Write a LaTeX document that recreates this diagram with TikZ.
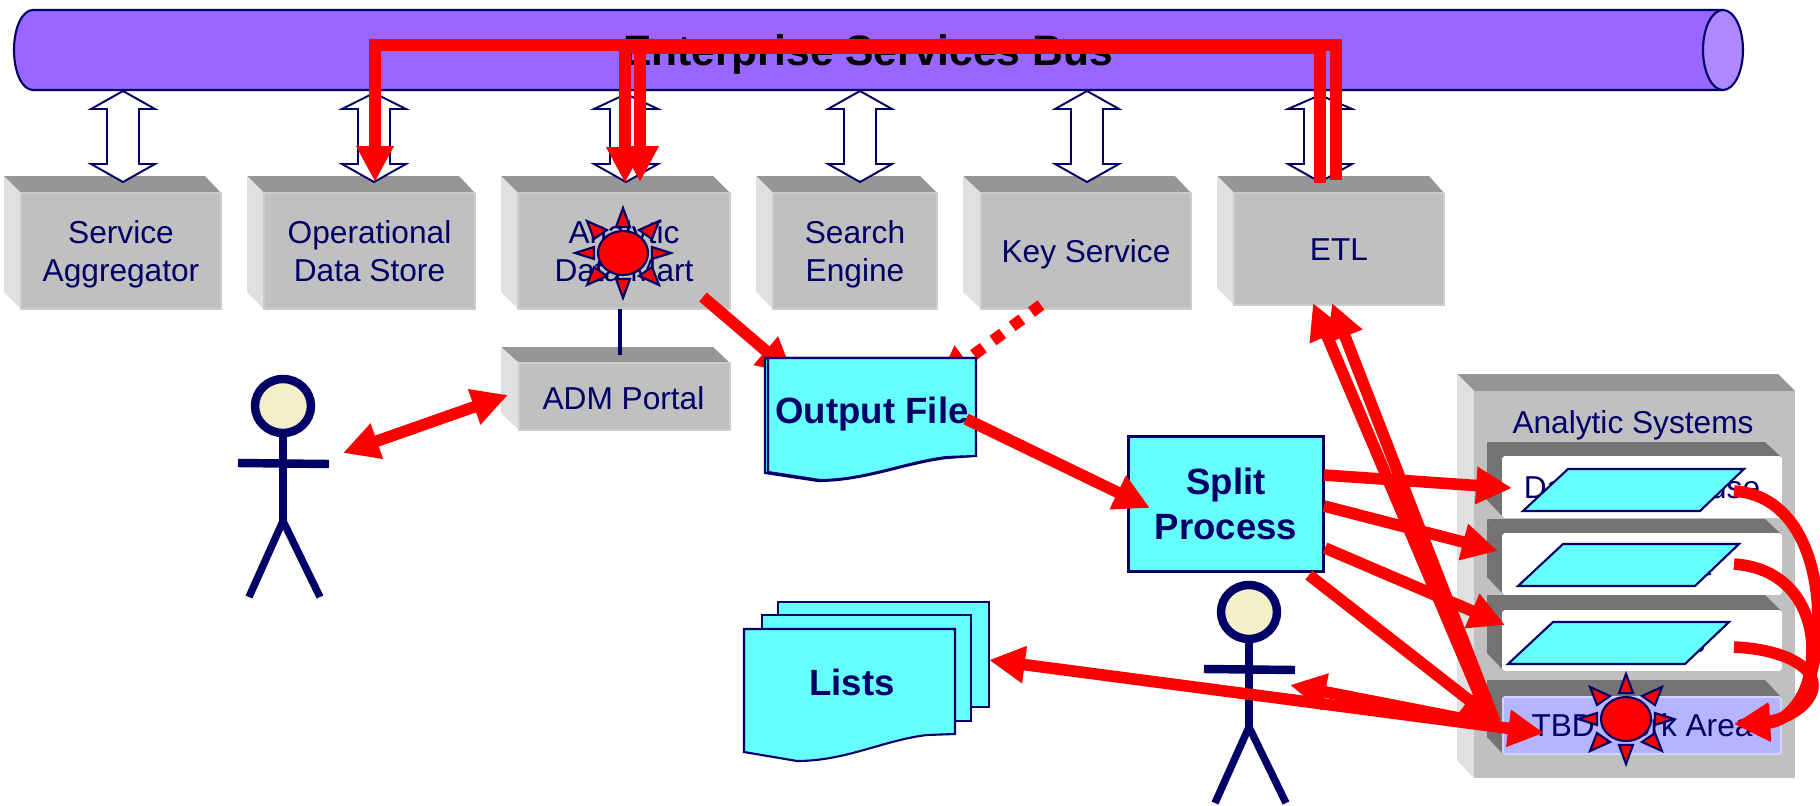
\documentclass[tikz,border=0pt]{standalone}
\usepackage{fontspec}
\setmainfont{Liberation Sans}
\usetikzlibrary{arrows.meta}
\definecolor{navyink}{HTML}{000066}
\definecolor{busviolet}{HTML}{9966FF}
\definecolor{buscap}{HTML}{AD88FF}
\definecolor{paper}{HTML}{66FFFF}
\definecolor{facegrey}{HTML}{C0C0C0}
\definecolor{topgrey}{HTML}{969696}
\definecolor{sidegrey}{HTML}{E0E0E0}
\definecolor{rowgrey}{HTML}{737373}
\definecolor{workblue}{HTML}{B5B5FF}
\definecolor{skin}{HTML}{F3EFC8}
\tikzset{
    plaintext/.style={text=navyink,align=center,font=\fontsize{9}{10.8}\selectfont,inner sep=0pt},
    boldtext/.style={text=navyink,align=center,font=\fontsize{10.4}{12.8}\selectfont\bfseries,inner sep=0pt},
    slab/.style={fill=facegrey,draw=facegrey!80!white,line width=0.5pt,outer sep=0pt,inner sep=0pt},
    rowface/.style={plaintext,line width=0.5pt,outer sep=0pt,rounded corners=0.5pt},
    sheet/.style={fill=paper,draw=navyink,line width=0.6pt},
    busline/.style={draw=navyink,line width=0.6pt},
    blockarrow/.style={fill=white,draw=navyink,line width=0.55pt},
    figure/.style={draw=navyink,line width=2.4pt},
    sunray/.style={fill=red,draw=navyink,line width=0.6pt},
    redline/.style={draw=red,line width=3.3pt},
    redarrow/.style={redline,-{Triangle[length=10.2pt,width=10pt]}},
    redboth/.style={redline,{Triangle[length=10.2pt,width=10pt]}-{Triangle[length=10.2pt,width=10pt]}},
}
\begin{document}
\begin{tikzpicture}[x=0.01cm,y=-0.01cm]
        \useasboundingbox (0,0) rectangle (1820,806);
        \fill [white] (0,0) rectangle (1820,806);

        \filldraw [fill=busviolet,busline] (1723,90) -- (33,90) .. controls (22,90) and (14,72) .. (14,50) .. controls (14,28) and (22,10) .. (33,10) -- (1723,10) -- cycle;
        \filldraw [fill=buscap,busline] (1723,50) ellipse [x radius=20,y radius=40];
        \draw (868,65) node[anchor=base,font=\fontsize{12.1}{14}\selectfont\bfseries,inner sep=0pt] (bus) {Enterprise Services Bus};

        \foreach \n/\l/\f/\b/\r/\bot/\txt in {aggregator/4/21/205/221/309/{Service\strut\\Aggregator\strut},store/247/264/459/475/309/{Operational\strut\\Data Store\strut},mart/501/518/713/730/309/{Analytic\strut\\Data Mart\strut},search/756/773/920/937/309/{Search\strut\\Engine\strut},key/963/981/1175/1191/309/{Key Service\strut},etl/1217/1234/1429/1444/305/{ETL\strut}} {
            \fill [topgrey] (\l,176) -- (\b,176) -- (\r,193) -- (\f,193) -- cycle;
            \fill [sidegrey] (\l,176) -- (\f,193) -- (\f,\bot) -- (\l,\bot-17) -- cycle;
            \node [slab,minimum width={(\r-\f)*0.1mm},minimum height={(\bot-193)*0.1mm}] (\n) at ({(\f+\r)/2},{(193+\bot)/2}) {};
            \node [plaintext,yshift=-1.1pt] (\n text) at (\n.center) {\txt};
        }
        \foreach \x/\t in {123/91,374/93,626/94,860/91,1087/91,1320/95} {
            \filldraw [blockarrow] (\x,\t) -- (\x+32,109) -- (\x+16,109) -- (\x+16,164) -- (\x+32,164) -- (\x,182) -- (\x-32,164) -- (\x-16,164) -- (\x-16,109) -- (\x-32,109) -- cycle;
        }

        \fill [topgrey] (501,347) -- (713,347) -- (730,363) -- (519,363) -- cycle;
        \fill [sidegrey] (501,347) -- (519,363) -- (519,430) -- (501,413) -- cycle;
        \node [slab,minimum width=2.11cm,minimum height=0.67cm] (portal) at (624.5,396.5) {};
        \node [plaintext,yshift=-0.6pt] (portal text) at (623.5,396.5) {ADM Portal};
        \coordinate (portalstub) at (620,355);
        \draw [navyink,line width=1pt] (portalstub |- mart.south) -- (portalstub);

        \fill [topgrey] (1457,374) -- (1778,374) -- (1795,391) -- (1474,391) -- cycle;
        \fill [sidegrey] (1457,374) -- (1474,391) -- (1474,778) -- (1457,760) -- cycle;
        \fill [facegrey] (1474,391) rectangle (1795,778);
        \draw (1633,425) node[plaintext] (systems) {Analytic Systems};

        \foreach \n/\d/\f/\bot/\c/\e/\txt in {warehouse/442/457/517/white/white/{Data Warehouse},rowtwo/519/534/594/white/white/{},rowthree/595/611/670/white/white/{},work/680/697/754/workblue/workblue!60!white/{TBD Work Area}} {
            \fill [rowgrey] (1487,\d) -- (1765,\d) -- (1781,\f) -- (1503,\f) -- cycle;
            \fill [rowgrey] (1487,\d) -- (1503,\f) -- (1503,\bot) -- (1487,\bot-17) -- cycle;
            \node [rowface,fill=\c,draw=\e,minimum width=2.78cm,minimum height={(\bot-\f)*0.1mm}] (\n) at (1642,{(\f+\bot)/2}) {\txt};
        }
        \draw (1712,575) node[plaintext,anchor=base east] (rowtwotail) {t};
        \draw (1706,652) node[plaintext,anchor=base east] (rowthreetail) {s};
        \foreach \x/\y in {1568/469,1563/544,1553/622} {
            \filldraw [sheet] (\x,\y) -- (\x+176,\y) -- (\x+132,\y+42) -- (\x-45,\y+42) -- cycle;
        }

        \foreach \x/\y in {283/406,1249/612} {
            \begin{scope}[shift={(\x,\y)}]
                \filldraw [fill=skin,figure] (0,0) ellipse [x radius=28,y radius=27];
                \draw [figure] (0,27) -- (0,115);
                \draw [figure] (-45,57) -- (46,58);
                \draw [figure,line width=2.1pt] (0,115) -- (-34,191);
                \draw [figure,line width=2.1pt] (0,115) -- (37,191);
            \end{scope}
        }

        \coordinate (martout) at (703,297);
        \coordinate (outputin) at (793,374);
        \coordinate (keyout) at (1041,305);
        \coordinate (outputkey) at (937,382);
        \draw [redarrow] (martout) -- (outputin);
        \draw [redarrow,dash pattern=on 3.4pt off 3.4pt] (keyout) -- (outputkey);

        \filldraw [sheet] (765,358) -- (973,358) -- (973,456) -- (947,458) .. controls (905,463) and (865,481) .. (818,481) -- (765,473) -- cycle;
        \filldraw [sheet] (768,358) -- (976,358) -- (976,456) -- (947,457) .. controls (905,462) and (865,480) .. (820,480) -- (768,472) -- cycle;
        \draw (872,423) node[boldtext,anchor=base] (output) {Output File};

        \filldraw [sheet] (778,602) -- (989,602) -- (989,707) -- (900,707) -- (778,707) -- cycle;
        \filldraw [sheet] (762,615) -- (971,615) -- (971,721) -- (762,721) -- cycle;
        \filldraw [sheet] (744,629) -- (955,629) -- (955,734) -- (927,735) .. controls (884,740) and (846,761) .. (797,761) -- (744,752) -- cycle;
        \draw (852,695) node[boldtext,anchor=base] (lists) {Lists};

        \node [boldtext,fill=paper,draw=navyink,line width=0.8pt,minimum width=1.95cm,minimum height=1.35cm] (split) at (1226,504) {Split\hspace{0.28em}\\Process};

        \foreach \x/\y in {623/253,1626/719} {
            \foreach \ax/\ay/\bx/\by/\cx/\cy in {0/-45/-7/-26/7/-26,0/45/-7/26/7/26,-48/0/-29/-6/-29/6,48/0/29/-6/29/6,-36/-32/-16/-23/-29/-14,36/-32/16/-23/29/-14,-36/32/-16/23/-29/14,36/32/16/23/29/14} {
                \filldraw [sunray] (\x+\ax,\y+\ay) -- (\x+\bx,\y+\by) -- (\x+\cx,\y+\cy) -- cycle;
            }
            \filldraw [sunray] (\x,\y) ellipse [x radius=25,y radius=22];
        }

        \coordinate (etlone) at (1320,183);
        \coordinate (etltwo) at (1336,180);
        \coordinate (martone) at (625,183);
        \coordinate (marttwo) at (640,182);
        \coordinate (storein) at (375,182);
        \draw [redarrow] (etlone) -- ++(0,-135) -| (martone);
        \draw [redarrow] (etltwo) -- ++(0,-135) -| (marttwo);
        \draw [redarrow] (etltwo) -- ++(0,-135) -| (storein);

        \coordinate (personone) at (343,453);
        \coordinate (portalin) at (508,395);
        \draw [redboth] (personone) -- (portalin);

        \coordinate (outputout) at (966,419);
        \coordinate (splitin) at (1150,508);
        \draw [redarrow] (outputout) -- (splitin);

        \coordinate (splita) at (1324,475);
        \coordinate (splitb) at (1324,506);
        \coordinate (splitc) at (1325,548);
        \coordinate (splitd) at (1309,575);
        \coordinate (rowa) at (1512,488);
        \coordinate (rowb) at (1498,551);
        \coordinate (rowc) at (1505,625);
        \coordinate (workd) at (1497,722);
        \draw [redarrow] (splita) -- (rowa);
        \draw [redarrow] (splitb) -- (rowb);
        \draw [redarrow] (splitc) -- (rowc);
        \draw [redarrow] (splitd) -- (workd);

        \coordinate (etlina) at (1313,303);
        \coordinate (etlinb) at (1332,303);
        \coordinate (workoutb) at (1495,722);
        \coordinate (workouta) at (1490,720);
        \draw [redarrow] (workouta) -- (etlina);
        \draw [redarrow] (workoutb) -- (etlinb);

        \coordinate (persontwo) at (1290,685);
        \coordinate (workoutc) at (1495,725);
        \draw [redarrow] (workoutc) -- (persontwo);
        \coordinate (listsin) at (989,660);
        \coordinate (workin) at (1544,733);
        \draw [redboth] (listsin) -- (workin);

        \coordinate (rowoutone) at (1734,491);
        \coordinate (rowouttwo) at (1734,564);
        \coordinate (rowoutthree) at (1734,647);
        \coordinate (workright) at (1734,724);
        \draw [redarrow] (rowoutone) .. controls (1795,495) and (1818,560) .. (1818,620) .. controls (1818,690) and (1790,722) .. (workright);
        \draw [redarrow] (rowouttwo) .. controls (1790,568) and (1812,610) .. (1812,650) .. controls (1812,700) and (1785,722) .. (workright);
        \draw [redarrow] (rowoutthree) .. controls (1780,649) and (1813,665) .. (1813,685) .. controls (1813,705) and (1785,720) .. (workright);
    \end{tikzpicture}
\end{document}
